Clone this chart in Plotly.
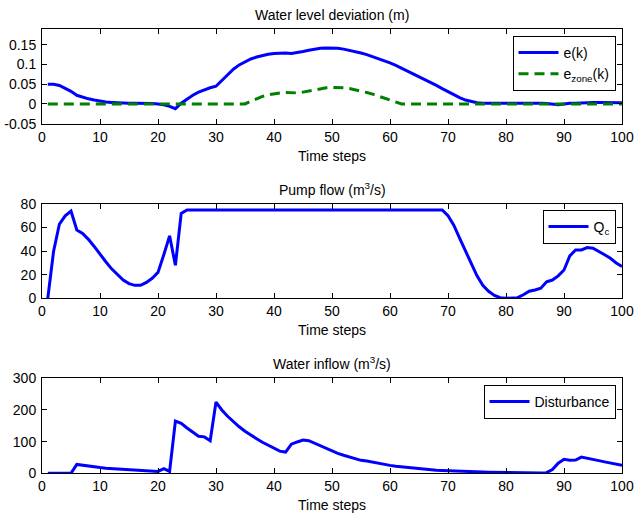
import plotly.graph_objects as go

k = list(range(1, 101))

e_k = [0.050, 0.050, 0.047, 0.040, 0.032, 0.022, 0.017, 0.013, 0.010, 0.007,
       0.005, 0.004, 0.003, 0.002, 0.002, 0.002, 0.002, 0.0015, 0.001, 0.000,
       -0.002, -0.006, -0.012, 0.002, 0.013, 0.022, 0.030, 0.036, 0.041, 0.045,
       0.060, 0.075, 0.088, 0.099, 0.107, 0.114, 0.119, 0.123, 0.126, 0.128,
       0.129, 0.129, 0.128, 0.130, 0.133, 0.136, 0.139, 0.141, 0.142, 0.142,
       0.141, 0.139, 0.136, 0.133, 0.129, 0.125, 0.120, 0.115, 0.110, 0.104,
       0.098, 0.091, 0.084, 0.077, 0.070, 0.062, 0.055, 0.047, 0.039, 0.031,
       0.023, 0.016, 0.010, 0.006, 0.003, 0.002, 0.002, 0.002, 0.002, 0.002,
       0.002, 0.002, 0.003, 0.003, 0.002, 0.002, 0.001, 0.000, -0.002, 0.000,
       0.002, 0.002, 0.003, 0.003, 0.004, 0.004, 0.004, 0.003, 0.003, 0.003]

e_zone = [0]*34 + [0.000, 0.007, 0.014, 0.019, 0.023, 0.026, 0.028,
                    0.029, 0.029, 0.028, 0.030, 0.033, 0.036, 0.039, 0.041, 0.042,
                    0.042, 0.041, 0.039, 0.036, 0.033, 0.029, 0.025, 0.020, 0.015,
                    0.010, 0.004, 0.000] + [0]*38
e_zone = e_zone[:100]

Q_c = [0, 40, 63, 70, 74, 58, 55, 50, 44, 37,
       31, 25, 20, 15.5, 12.5, 11, 11, 13.5, 17, 22,
       37, 53, 28, 72, 75, 75, 75, 75, 75, 75,
       75, 75, 75, 75, 75, 75, 75, 75, 75, 75,
       75, 75, 75, 75, 75, 75, 75, 75, 75, 75,
       75, 75, 75, 75, 75, 75, 75, 75, 75, 75,
       75, 75, 75, 75, 75, 75, 75, 75, 75, 70,
       62, 51, 40, 29, 19, 11, 6, 2.5, 0.5, 0,
       0, 0.5, 3, 6, 7, 8.5, 14, 15.5, 19, 24,
       36, 41, 41, 43, 42.5, 40, 37, 34, 30, 27]

disturbance = [0, 0, 0, 2, 0, 28, 25, 22, 20, 18,
               16, 15, 13, 12, 11, 10, 9, 8, 7, 6,
               15, 6, 165, 158, 143, 130, 117, 115, 103, 225,
               200, 180, 162, 147, 133, 120, 109, 98, 88, 79,
               70, 67, 92, 99, 105, 103, 95, 86, 78, 70,
               63, 57, 51, 46, 41, 39, 35, 31, 28, 25,
               22, 20, 18, 16, 14, 12.5, 11, 10, 9, 8,
               7, 6, 5.5, 5, 4.5, 4, 3.5, 3, 2.8, 2.5,
               2.2, 2, 1.8, 1.6, 1.4, 1.2, 2, 12, 32, 44,
               41, 42, 51, 48, 44, 40, 36, 32, 29, 25]

x_ticks = [0, 10, 20, 30, 40, 50, 60, 70, 80, 90, 100]
y1_ticks = [-0.05, 0, 0.05, 0.1, 0.15]
y1_labels = ["-0.05", "0", "0.05", "0.1", "0.15"]
y2_ticks = [0, 20, 40, 60, 80]
y3_ticks = [0, 100, 200, 300]

titles = ["Water level deviation (m)", "Pump flow (m<sup>3</sup>/s)", "Water inflow (m<sup>3</sup>/s)"]

W, H = 635, 518
FONT = "Liberation Sans, Arial, Helvetica, sans-serif"
BLUE = "rgb(0,0,255)"
GREEN = "rgb(0,128,0)"

def dom(top_px, bot_px):
    return [1 - bot_px / H, 1 - top_px / H]

doms = [dom(29, 123.7), dom(204, 298.3), dom(378.3, 473.3)]

fig = go.Figure()
fig.add_trace(go.Scatter(x=k, y=e_k, mode="lines", name="e(k)",
                         line=dict(color=BLUE, width=3), xaxis="x", yaxis="y", legend="legend"))
fig.add_trace(go.Scatter(x=k, y=e_zone, mode="lines", name="e<sub>zone</sub>(k)",
                         line=dict(color=GREEN, width=3, dash="10px,6px"), xaxis="x", yaxis="y", legend="legend"))
fig.add_trace(go.Scatter(x=k, y=Q_c, mode="lines", name="Q<sub>c</sub>",
                         line=dict(color=BLUE, width=3), xaxis="x2", yaxis="y2", legend="legend2"))
fig.add_trace(go.Scatter(x=k, y=disturbance, mode="lines", name="Disturbance",
                         line=dict(color=BLUE, width=3), xaxis="x3", yaxis="y3", legend="legend3"))

axcommon = dict(showline=True, linecolor="black", linewidth=1, mirror="ticks",
                ticks="inside", ticklen=5, tickcolor="black", showgrid=False, zeroline=False,
                automargin=False,
                tickfont=dict(family=FONT, size=14, color="black"))

for i, (yt, ytxt, yr) in enumerate([(y1_ticks, y1_labels, [-0.05, 0.19]),
                                   (y2_ticks, [str(v) for v in y2_ticks], [0, 80]),
                                   (y3_ticks, [str(v) for v in y3_ticks], [0, 300])]):
    sfx = "" if i == 0 else str(i + 1)
    fig.layout["xaxis" + sfx] = dict(domain=[0, 1], range=[0, 100], tickvals=x_ticks,
                                     anchor="y" + sfx,
                                     title=dict(text="Time steps", standoff=7,
                                                font=dict(family=FONT, size=14, color="black")),
                                     **axcommon)
    fig.layout["yaxis" + sfx] = dict(domain=doms[i], range=yr, tickvals=yt, ticktext=ytxt,
                                     anchor="x" + sfx, ticklabelstandoff=2, **axcommon)
    fig.add_annotation(text=titles[i], xref="paper", yref="paper", x=0.5, y=doms[i][1],
                       xanchor="center", yanchor="bottom", yshift=4, showarrow=False,
                       font=dict(family=FONT, size=14, color="black"))

legcommon = dict(bgcolor="white", bordercolor="black", borderwidth=1,
                 font=dict(family=FONT, size=14, color="black"),
                 xref="paper", yref="paper", xanchor="right", yanchor="top",
                 tracegroupgap=0, itemclick=False, itemwidth=40)
px_x = lambda p: (p - 42) / 580
fig.update_layout(
    legend=dict(x=px_x(615.5), y=1 - 36 / H, **legcommon),
    legend2=dict(x=px_x(615.5), y=1 - 210 / H, **legcommon),
    legend3=dict(x=px_x(615.5), y=1 - 385 / H, **legcommon),
)

fig.update_layout(width=W, height=H, margin=dict(l=42, r=13, t=0, b=0, autoexpand=False),
                  paper_bgcolor="white", plot_bgcolor="white", showlegend=True,
                  font=dict(family=FONT, size=14, color="black"))

fig.write_html("out.html", config={"displayModeBar": False},
               post_script="document.body.style.margin='0px';")
